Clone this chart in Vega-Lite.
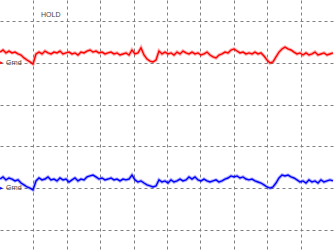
{
"$schema":"https://vega.github.io/schema/vega-lite/v6.json",
"width":334,"height":251,"autosize":{"type":"none"},"padding":0,
"background":"white",
"config":{"view":{"stroke":null},"axis":{"minExtent":0,"maxExtent":0,"offset":0}},
"datasets":{
"tr":[
{"t":0,"ch":"A","v":9.51},{"t":3,"ch":"A","v":9.61},{"t":6,"ch":"A","v":9.47},{"t":9,"ch":"A","v":9.56},{"t":12,"ch":"A","v":9.47},{"t":15,"ch":"A","v":9.51},{"t":18,"ch":"A","v":9.42},{"t":21,"ch":"A","v":9.37},{"t":24,"ch":"A","v":9.23},{"t":27,"ch":"A","v":9.13},{"t":30,"ch":"A","v":9.04},{"t":33,"ch":"A","v":8.94},{"t":36,"ch":"A","v":9.42},{"t":39,"ch":"A","v":9.51},{"t":42,"ch":"A","v":9.42},{"t":45,"ch":"A","v":9.56},{"t":48,"ch":"A","v":9.47},{"t":51,"ch":"A","v":9.42},{"t":54,"ch":"A","v":9.51},{"t":57,"ch":"A","v":9.47},{"t":60,"ch":"A","v":9.56},{"t":63,"ch":"A","v":9.42},{"t":66,"ch":"A","v":9.47},{"t":69,"ch":"A","v":9.51},{"t":72,"ch":"A","v":9.42},{"t":75,"ch":"A","v":9.47},{"t":78,"ch":"A","v":9.37},{"t":81,"ch":"A","v":9.51},{"t":84,"ch":"A","v":9.47},{"t":87,"ch":"A","v":9.56},{"t":90,"ch":"A","v":9.61},{"t":93,"ch":"A","v":9.51},{"t":96,"ch":"A","v":9.56},{"t":99,"ch":"A","v":9.47},{"t":102,"ch":"A","v":9.51},{"t":105,"ch":"A","v":9.42},{"t":108,"ch":"A","v":9.47},{"t":111,"ch":"A","v":9.51},{"t":114,"ch":"A","v":9.42},{"t":117,"ch":"A","v":9.47},{"t":120,"ch":"A","v":9.37},{"t":123,"ch":"A","v":9.42},{"t":126,"ch":"A","v":9.47},{"t":129,"ch":"A","v":9.37},{"t":132,"ch":"A","v":9.61},{"t":135,"ch":"A","v":9.42},{"t":138,"ch":"A","v":9.47},{"t":141,"ch":"A","v":9.71},{"t":144,"ch":"A","v":9.37},{"t":147,"ch":"A","v":9.18},{"t":150,"ch":"A","v":9.08},{"t":153,"ch":"A","v":9.04},{"t":156,"ch":"A","v":9.13},{"t":159,"ch":"A","v":9.56},{"t":162,"ch":"A","v":9.42},{"t":165,"ch":"A","v":9.51},{"t":168,"ch":"A","v":9.42},{"t":171,"ch":"A","v":9.47},{"t":174,"ch":"A","v":9.37},{"t":177,"ch":"A","v":9.51},{"t":180,"ch":"A","v":9.42},{"t":183,"ch":"A","v":9.56},{"t":186,"ch":"A","v":9.47},{"t":189,"ch":"A","v":9.42},{"t":192,"ch":"A","v":9.51},{"t":195,"ch":"A","v":9.42},{"t":198,"ch":"A","v":9.47},{"t":201,"ch":"A","v":9.37},{"t":204,"ch":"A","v":9.42},{"t":207,"ch":"A","v":9.51},{"t":210,"ch":"A","v":9.37},{"t":213,"ch":"A","v":9.28},{"t":216,"ch":"A","v":9.23},{"t":219,"ch":"A","v":9.37},{"t":222,"ch":"A","v":9.42},{"t":225,"ch":"A","v":9.51},{"t":228,"ch":"A","v":9.47},{"t":231,"ch":"A","v":9.61},{"t":234,"ch":"A","v":9.66},{"t":237,"ch":"A","v":9.56},{"t":240,"ch":"A","v":9.47},{"t":243,"ch":"A","v":9.51},{"t":246,"ch":"A","v":9.42},{"t":249,"ch":"A","v":9.47},{"t":252,"ch":"A","v":9.42},{"t":255,"ch":"A","v":9.51},{"t":258,"ch":"A","v":9.42},{"t":261,"ch":"A","v":9.47},{"t":264,"ch":"A","v":9.32},{"t":267,"ch":"A","v":9.13},{"t":270,"ch":"A","v":8.99},{"t":273,"ch":"A","v":9.04},{"t":276,"ch":"A","v":9.28},{"t":279,"ch":"A","v":9.51},{"t":282,"ch":"A","v":9.66},{"t":285,"ch":"A","v":9.75},{"t":288,"ch":"A","v":9.66},{"t":291,"ch":"A","v":9.61},{"t":294,"ch":"A","v":9.51},{"t":297,"ch":"A","v":9.42},{"t":300,"ch":"A","v":9.47},{"t":303,"ch":"A","v":9.37},{"t":306,"ch":"A","v":9.47},{"t":309,"ch":"A","v":9.37},{"t":312,"ch":"A","v":9.42},{"t":315,"ch":"A","v":9.51},{"t":318,"ch":"A","v":9.37},{"t":321,"ch":"A","v":9.42},{"t":324,"ch":"A","v":9.47},{"t":327,"ch":"A","v":9.37},{"t":330,"ch":"A","v":9.42},{"t":333,"ch":"A","v":9.47},
{"t":0,"ch":"B","v":3.44},{"t":3,"ch":"B","v":3.54},{"t":6,"ch":"B","v":3.40},{"t":9,"ch":"B","v":3.49},{"t":12,"ch":"B","v":3.44},{"t":15,"ch":"B","v":3.35},{"t":18,"ch":"B","v":3.40},{"t":21,"ch":"B","v":3.25},{"t":24,"ch":"B","v":3.16},{"t":27,"ch":"B","v":3.06},{"t":30,"ch":"B","v":3.01},{"t":33,"ch":"B","v":2.92},{"t":36,"ch":"B","v":3.35},{"t":39,"ch":"B","v":3.49},{"t":42,"ch":"B","v":3.40},{"t":45,"ch":"B","v":3.44},{"t":48,"ch":"B","v":3.54},{"t":51,"ch":"B","v":3.40},{"t":54,"ch":"B","v":3.44},{"t":57,"ch":"B","v":3.35},{"t":60,"ch":"B","v":3.49},{"t":63,"ch":"B","v":3.40},{"t":66,"ch":"B","v":3.44},{"t":69,"ch":"B","v":3.30},{"t":72,"ch":"B","v":3.40},{"t":75,"ch":"B","v":3.49},{"t":78,"ch":"B","v":3.35},{"t":81,"ch":"B","v":3.44},{"t":84,"ch":"B","v":3.40},{"t":87,"ch":"B","v":3.54},{"t":90,"ch":"B","v":3.59},{"t":93,"ch":"B","v":3.63},{"t":96,"ch":"B","v":3.54},{"t":99,"ch":"B","v":3.44},{"t":102,"ch":"B","v":3.49},{"t":105,"ch":"B","v":3.40},{"t":108,"ch":"B","v":3.44},{"t":111,"ch":"B","v":3.49},{"t":114,"ch":"B","v":3.40},{"t":117,"ch":"B","v":3.44},{"t":120,"ch":"B","v":3.35},{"t":123,"ch":"B","v":3.44},{"t":126,"ch":"B","v":3.40},{"t":129,"ch":"B","v":3.44},{"t":132,"ch":"B","v":3.63},{"t":135,"ch":"B","v":3.40},{"t":138,"ch":"B","v":3.30},{"t":141,"ch":"B","v":3.35},{"t":144,"ch":"B","v":3.25},{"t":147,"ch":"B","v":3.16},{"t":150,"ch":"B","v":3.11},{"t":153,"ch":"B","v":3.06},{"t":156,"ch":"B","v":3.11},{"t":159,"ch":"B","v":3.40},{"t":162,"ch":"B","v":3.30},{"t":165,"ch":"B","v":3.35},{"t":168,"ch":"B","v":3.25},{"t":171,"ch":"B","v":3.40},{"t":174,"ch":"B","v":3.30},{"t":177,"ch":"B","v":3.35},{"t":180,"ch":"B","v":3.44},{"t":183,"ch":"B","v":3.35},{"t":186,"ch":"B","v":3.40},{"t":189,"ch":"B","v":3.54},{"t":192,"ch":"B","v":3.44},{"t":195,"ch":"B","v":3.54},{"t":198,"ch":"B","v":3.40},{"t":201,"ch":"B","v":3.35},{"t":204,"ch":"B","v":3.44},{"t":207,"ch":"B","v":3.35},{"t":210,"ch":"B","v":3.30},{"t":213,"ch":"B","v":3.35},{"t":216,"ch":"B","v":3.40},{"t":219,"ch":"B","v":3.30},{"t":222,"ch":"B","v":3.35},{"t":225,"ch":"B","v":3.44},{"t":228,"ch":"B","v":3.49},{"t":231,"ch":"B","v":3.59},{"t":234,"ch":"B","v":3.54},{"t":237,"ch":"B","v":3.59},{"t":240,"ch":"B","v":3.49},{"t":243,"ch":"B","v":3.54},{"t":246,"ch":"B","v":3.44},{"t":249,"ch":"B","v":3.40},{"t":252,"ch":"B","v":3.44},{"t":255,"ch":"B","v":3.35},{"t":258,"ch":"B","v":3.30},{"t":261,"ch":"B","v":3.25},{"t":264,"ch":"B","v":3.16},{"t":267,"ch":"B","v":3.06},{"t":270,"ch":"B","v":3.01},{"t":273,"ch":"B","v":3.06},{"t":276,"ch":"B","v":3.25},{"t":279,"ch":"B","v":3.49},{"t":282,"ch":"B","v":3.63},{"t":285,"ch":"B","v":3.59},{"t":288,"ch":"B","v":3.63},{"t":291,"ch":"B","v":3.54},{"t":294,"ch":"B","v":3.49},{"t":297,"ch":"B","v":3.40},{"t":300,"ch":"B","v":3.30},{"t":303,"ch":"B","v":3.35},{"t":306,"ch":"B","v":3.25},{"t":309,"ch":"B","v":3.40},{"t":312,"ch":"B","v":3.30},{"t":315,"ch":"B","v":3.35},{"t":318,"ch":"B","v":3.25},{"t":321,"ch":"B","v":3.40},{"t":324,"ch":"B","v":3.30},{"t":327,"ch":"B","v":3.35},{"t":330,"ch":"B","v":3.40},{"t":333,"ch":"B","v":3.35}
],
"gnd":[{"ch":"A","t":6,"m":1.5,"v":9.0,"label":"Grnd"},{"ch":"B","t":6,"m":1.5,"v":3.0,"label":"Grnd"}],
"hold":[{"t":41,"v":11.28,"label":"HOLD"}]
},
"layer":[
{"data":{"name":"tr"},
 "mark":{"type":"line","strokeWidth":3.5,"opacity":0.3},
 "encoding":{
  "x":{"field":"t","type":"quantitative","scale":{"domain":[0,334],"nice":false,"zero":false},
   "axis":{"grid":true,"gridColor":"#808080","gridDash":[3,3],"gridWidth":1,"values":[33.4,66.8,100.2,133.6,167,200.4,233.8,267.2,300.6],"labels":false,"ticks":false,"domain":false,"title":null}},
  "y":{"field":"v","type":"quantitative","scale":{"domain":[0,12],"nice":false,"zero":false},
   "axis":{"grid":true,"gridColor":"#808080","gridDash":[3,3],"gridWidth":1,"values":[1,2,3,4,5,6,7,8,9,10,11],"labels":false,"ticks":false,"domain":false,"title":null}},
  "color":{"field":"ch","type":"nominal","scale":{"domain":["A","B"],"range":["#ff0000","#0000ff"]},"legend":null}
 }},
{"data":{"name":"tr"},
 "mark":{"type":"line","strokeWidth":1.4},
 "encoding":{
  "x":{"field":"t","type":"quantitative"},
  "y":{"field":"v","type":"quantitative"},
  "color":{"field":"ch","type":"nominal","legend":null}
 }},
{"data":{"name":"gnd"},
 "mark":{"type":"point","shape":"triangle-right","filled":true,"size":10,"opacity":1},
 "encoding":{
  "x":{"field":"m","type":"quantitative"},
  "y":{"field":"v","type":"quantitative"},
  "color":{"field":"ch","type":"nominal","legend":null}
 }},
{"data":{"name":"gnd"},
 "mark":{"type":"text","align":"left","baseline":"middle","font":"Liberation Sans","fontSize":7,"color":"#444444"},
 "encoding":{
  "x":{"field":"t","type":"quantitative"},
  "y":{"field":"v","type":"quantitative"},
  "text":{"field":"label"}
 }},
{"data":{"name":"hold"},
 "mark":{"type":"text","align":"left","baseline":"middle","font":"Liberation Sans","fontSize":7,"color":"#444444"},
 "encoding":{
  "x":{"field":"t","type":"quantitative"},
  "y":{"field":"v","type":"quantitative"},
  "text":{"field":"label"}
 }}
]
}
